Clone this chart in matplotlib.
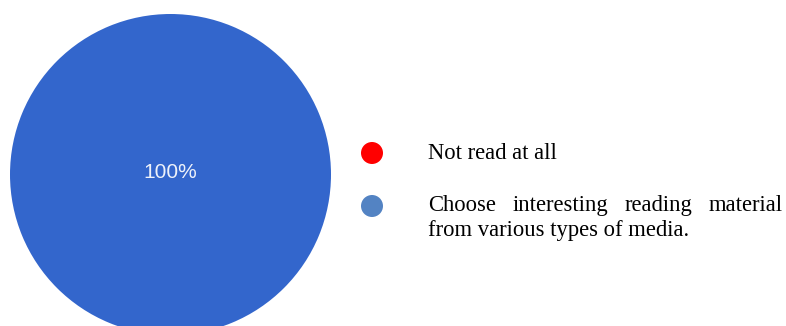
import matplotlib
matplotlib.use("Agg")
import matplotlib.pyplot as plt

# Data
categories = ["Not read at all",
              "Choose interesting reading material from various types of media."]
values = [0, 100]
pie_colors = ["#ff0000", "#3366cc"]
legend_colors = ["#ff0000", "#5383c3"]

W, H = 786, 326
fig = plt.figure(figsize=(W / 100, H / 100), dpi=100)

# Pie axes (centre ~ (170.5, 174.5) px, radius ~160.5 px)
cx, cy, r = 170.5, 174.5, 160.5
ax = fig.add_axes([(cx - r) / W, (H - cy - r) / H, 2 * r / W, 2 * r / H])
wedges, texts, autotexts = ax.pie(
    values, colors=pie_colors, startangle=90, counterclock=False, radius=1,
    autopct=lambda p: f"{p:.0f}%" if p > 0 else "", pctdistance=0.0,
    textprops=dict(color="#eef2fa", fontsize=15, family="Liberation Sans"))
for t in autotexts:
    t.set_y(0.015)
ax.set_xlim(-1, 1)
ax.set_ylim(-1, 1)
ax.set_aspect("auto")
ax.axis("off")

# Legend overlay in pixel coordinates
lax = fig.add_axes([0, 0, 1, 1])
lax.set_xlim(0, W)
lax.set_ylim(H, 0)
lax.axis("off")

marker_x = 372
marker_y = [153, 206]
lax.scatter([marker_x] * 2, marker_y, s=(22 * 0.72) ** 2, c=legend_colors,
            edgecolors="none")

font = dict(family="Liberation Serif", fontsize=16.3, color="black")
text_x = 428
right_x = 783

lax.text(text_x, 159, categories[0], va="baseline", ha="left", **font)

# second label: first line justified, second line left aligned
words = categories[1].split()
line1 = words[:4]
line2 = " ".join(words[4:])
fig.canvas.draw()
renderer = fig.canvas.get_renderer()
widths = []
for w in line1:
    t = lax.text(0, 0, w, **font)
    widths.append(t.get_window_extent(renderer).width)
    t.remove()
gap = (right_x - text_x - sum(widths)) / (len(line1) - 1)
x = text_x
for w, wd in zip(line1, widths):
    lax.text(x, 211, w, va="baseline", ha="left", **font)
    x += wd + gap
lax.text(text_x, 236, line2, va="baseline", ha="left", **font)

fig.savefig("out.png", dpi=100)
